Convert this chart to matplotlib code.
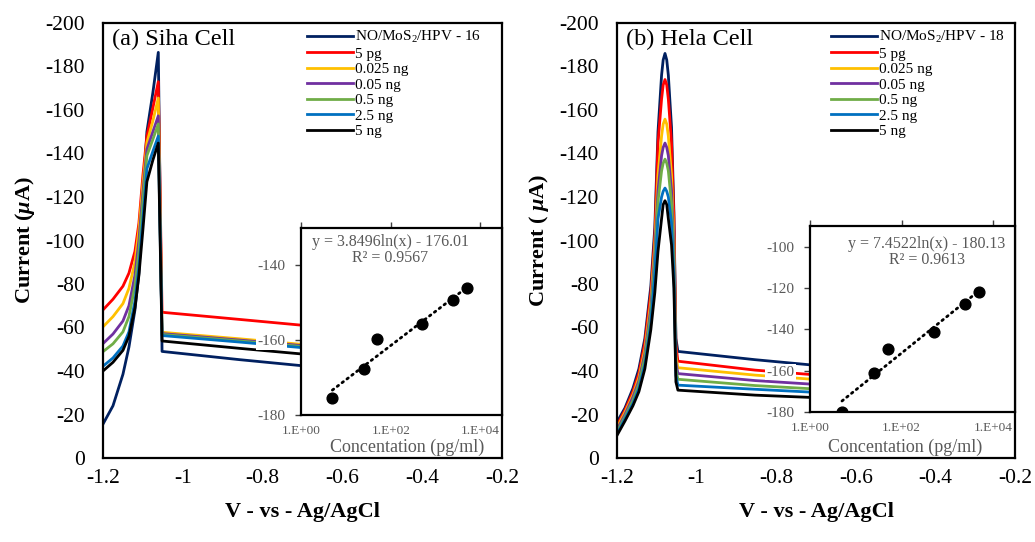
import numpy as np
import matplotlib
matplotlib.use("Agg")
import matplotlib.pyplot as plt

plt.rcParams['font.family'] = ['Liberation Serif', 'DejaVu Serif']
plt.rcParams['axes.unicode_minus'] = False
plt.rcParams['mathtext.fontset'] = 'custom'
plt.rcParams['mathtext.rm'] = 'Liberation Serif'
plt.rcParams['mathtext.it'] = 'Liberation Serif:italic:bold'
plt.rcParams['mathtext.bf'] = 'Liberation Serif:bold'

# --- data ---
colors = ['#002060', '#FF0000', '#FFC000', '#7030A0', '#70AD47', '#0070C0', '#000000']
labels_a = ['NO/MoS$_\\mathregular{2}$/HPV - 16', '5 pg', '0.025 ng', '0.05 ng', '0.5 ng', '2.5 ng', '5 ng']
labels_b = ['NO/MoS$_\\mathregular{2}$/HPV - 18', '5 pg', '0.025 ng', '0.05 ng', '0.5 ng', '2.5 ng', '5 ng']

# (a) Siha cell, potential (V) and current (uA)
v_siha = [-1.2, -1.175, -1.15, -1.135, -1.12, -1.11, -1.1, -1.09, -1.075, -1.0614, -1.052, -0.857, -0.2]
siha_navy = [-15.6, -24, -38.5, -51, -68, -85, -120, -150, -168, -186.5, -49, -45.2, -33.5]
siha_red = [-68.1, -73, -79, -85, -95, -108, -130, -148, -161, -173, -67, -63.7, -52.5]
siha_yellow = [-60.3, -65, -71, -78, -90, -105, -126, -145, -155, -165.5, -57.8, -54.8, -44]
siha_purple = [-52.6, -57, -63, -70, -84, -100, -122, -142, -150, -157.3, -57.2, -54.2, -43.5]
siha_green = [-48.9, -52.5, -58, -65, -79, -95, -118, -139, -146.5, -153.6, -56.8, -53.8, -43]
siha_blue = [-42.2, -46, -51.5, -58, -72, -88, -110, -133, -141, -148, -56.3, -53.3, -42.5]
siha_black = [-40, -44, -49.5, -56, -69, -84, -105, -127, -137, -144.8, -53.8, -50.4, -39.5]

# (b) Hela cell
v_hela = [-1.2, -1.18, -1.16, -1.145, -1.13, -1.115, -1.105, -1.097, -1.088, -1.084, -1.0794,
          -1.075, -1.071, -1.063, -1.057, -1.052, -1.047, -0.853, -0.2]
hela_navy = [-16.5, -23, -32, -41, -55, -79, -106, -150, -176, -183, -186, -183, -176, -152, -113, -55, -49, -45.2, -34]
hela_red = [-15, -22, -30.5, -39, -53, -76, -102, -145, -165, -171.5, -174, -171.5, -165, -145, -110, -52, -44.5, -40.4, -31]
hela_yellow = [-14, -21, -29, -37, -50, -72, -98, -130, -148, -153.5, -155.8, -153.5, -148, -130, -100, -47, -41.5, -38.1, -29.5]
hela_purple = [-13, -20, -28, -35.5, -48, -69, -94, -123, -139, -142.8, -144.8, -142.8, -139, -123, -95, -44, -38.8, -35.6, -28]
hela_green = [-12, -19, -26.5, -34, -46, -66, -90, -118, -132, -135.5, -137.4, -135.5, -132, -117, -90, -41, -36.2, -33.3, -26.5]
hela_blue = [-11, -18, -25, -32, -43, -62, -85, -110, -120, -122.6, -124.1, -122.6, -120, -108, -84, -38, -33.5, -31.6, -25.5]
hela_black = [-10.4, -17, -24, -30.5, -41, -59, -76, -95, -110, -116.5, -118.3, -116.5, -110, -98, -78, -35, -31.2, -28.9, -24]

# calibration insets: concentration (pg/ml) vs peak current
conc = [5, 25, 50, 500, 2500, 5000]
siha_peak = [-175.5, -167.7, -159.6, -155.8, -149.3, -146.1]
hela_peak = [-179.9, -160.9, -149.3, -141.3, -127.6, -121.7]

x_ticks = [-1.2, -1.0, -0.8, -0.6, -0.4, -0.2]
y_ticks = [0, -20, -40, -60, -80, -100, -120, -140, -160, -180, -200]

gray = '#595959'


def draw_panel(ax, v, curves, labels, title, ylabel, leg_x):
    for y, lab, col in zip(curves, labels, colors):
        ax.plot(v, y, color=col, lw=2.0, label=lab)
    ax.set_xlim(-1.2, -0.2)
    ax.set_ylim(0, -200)  # more negative current upwards
    ax.set_xticks(x_ticks)
    ax.set_xticklabels([f'{t:g}' for t in x_ticks])
    ax.set_yticks(y_ticks)
    ax.set_yticklabels([f'{t:g}' for t in y_ticks])
    ax.tick_params(length=0, labelsize=15.5)
    ax.tick_params(axis='y', pad=13)
    ax.tick_params(axis='x', pad=8)
    for s in ax.spines.values():
        s.set_linewidth(1.6)
    ax.set_xlabel('V - vs - Ag/AgCl', fontsize=16, fontweight='bold')
    ax.xaxis.set_label_coords(0.5, -0.1)
    ax.set_ylabel(ylabel, fontsize=16, fontweight='bold')
    ax.yaxis.set_label_coords(-0.165, 0.5)
    ax.text(0.023, 0.963, title, transform=ax.transAxes, fontsize=17.5, va='center')
    ax.legend(loc='upper left', bbox_to_anchor=(leg_x, 0.986), frameon=False,
              fontsize=11, handlelength=3.0, handletextpad=0.15, labelspacing=0.12,
              borderpad=0, borderaxespad=0)


def draw_inset(ax, peak, ylim, yticks, eq, r2, eq_x, eq_y, xlab_x, xlab_y):
    ax.set_facecolor('white')
    ax.set_xscale('log')
    ax.scatter(conc, peak, s=60, color='black', zorder=3)
    # logarithmic trend line like excel
    k, b = np.polyfit(np.log(conc), peak, 1)
    xs = np.geomspace(conc[0], conc[-1], 60)
    ax.plot(xs, k * np.log(xs) + b, color='black', lw=2.0, linestyle=(0, (0.6, 1.6)),
            dash_capstyle='round')
    ax.set_xlim(1, 10 ** 4.48)
    ax.set_ylim(*ylim)
    ax.set_xticks([1, 100, 10000])
    ax.set_xticklabels(['1.E+00', '1.E+02', '1.E+04'])
    ax.minorticks_off()
    ax.set_yticks(yticks)
    ax.set_yticklabels([f'{t:g}' for t in yticks])
    ax.tick_params(axis='x', top=True, bottom=False, labeltop=False, labelbottom=True,
                   direction='out', length=4, width=1, color='#404040',
                   labelsize=9.5, labelcolor=gray, pad=3)
    ax.tick_params(axis='y', direction='out', length=4, width=1, color='#404040',
                   labelsize=11, labelcolor=gray, pad=7)
    for t in ax.get_yticklabels():
        t.set_bbox(dict(facecolor='white', edgecolor='none', pad=1))
    for s in ax.spines.values():
        s.set_linewidth(1.6)
    ax.text(eq_x, eq_y, eq, transform=ax.transAxes, ha='center', va='center',
            fontsize=11.5, color=gray)
    ax.text(eq_x, eq_y - 0.085, r2, transform=ax.transAxes, ha='center', va='center',
            fontsize=11.5, color=gray)
    ax.set_xlabel('Concentation (pg/ml)', fontsize=13, color=gray)
    ax.xaxis.set_label_coords(xlab_x, xlab_y)
    ax.xaxis.label.set_va('center')


fig = plt.figure(figsize=(10.35, 5.42), dpi=100)
W, H = 1035, 542
ax_a = fig.add_axes([103 / W, 84 / H, 399 / W, 435 / H])
ax_b = fig.add_axes([617 / W, 84 / H, 398 / W, 435 / H])
in_a = fig.add_axes([301 / W, 127 / H, 201 / W, 187 / H])
in_b = fig.add_axes([810 / W, 130 / H, 205 / W, 186 / H])

draw_panel(ax_a, v_siha,
           [siha_navy, siha_red, siha_yellow, siha_purple, siha_green, siha_blue, siha_black],
           labels_a, '(a) Siha Cell', 'Current ($\\mu$A)', 0.511)
draw_panel(ax_b, v_hela,
           [hela_navy, hela_red, hela_yellow, hela_purple, hela_green, hela_blue, hela_black],
           labels_b, '(b) Hela Cell', 'Current ( $\\mu$A)', 0.537)

draw_inset(in_a, siha_peak, (-180, -130), [-180, -160, -140],
           'y = 3.8496ln(x) - 176.01', 'R² = 0.9567', 0.443, 0.925, 0.527, -0.175)
draw_inset(in_b, hela_peak, (-180, -90), [-180, -160, -140, -120, -100],
           'y = 7.4522ln(x) - 180.13', 'R² = 0.9613', 0.571, 0.903, 0.463, -0.19)

fig.savefig('out.png', dpi=100)
